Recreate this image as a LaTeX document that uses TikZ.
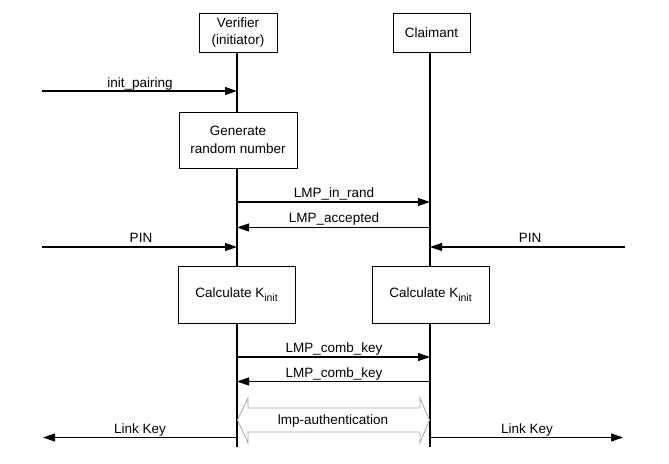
\documentclass[tikz,border=0pt]{standalone}
\usepackage{fontspec}
\setmainfont{Liberation Sans}
\usetikzlibrary{arrows.meta}
\newcommand{\subinit}{\raisebox{-4.5pt}{\fontsize{10.5}{12}\selectfont init}}
\begin{document}
\begin{tikzpicture}[x=1pt,y=-1pt,
  font=\fontsize{13.5}{17.5}\selectfont,
  box/.style={draw,fill=white,line width=1pt,inner sep=0pt,align=center},
  life/.style={line width=1.1pt},
  msg/.style={line width=1.1pt,-{Triangle[length=12pt,width=8pt]}},
  lbl/.style={inner sep=0pt,anchor=base}]
\useasboundingbox (0,0) rectangle (669,463);
% lifelines
\coordinate (vtop) at (237,52);
\coordinate (vbot) at (237,447);
\coordinate (ctop) at (430,52);
\coordinate (cbot) at (430,447);
\draw[life] (vtop) -- (vbot);
\draw[life] (ctop) -- (cbot);
% boxes
\node[box,minimum width=78pt,minimum height=39pt] (ver) at (238,32.5) {Verifier\\(initiator)};
\node[box,minimum width=77pt,minimum height=39pt] (cla) at (431.5,32.5) {Claimant};
\node[box,minimum width=118pt,minimum height=56pt] (gen) at (238,140) {Generate\\random number};
\node[box,minimum width=117pt,minimum height=57pt] (calv) at (236.5,294.5) {Calculate K\subinit};
\node[box,minimum width=117pt,minimum height=57pt] (calc) at (430.5,294.5) {Calculate K\subinit};
% coordinates for messages
\coordinate (ip0) at (42,91);   \coordinate (ip1) at (237,91);
\coordinate (ir0) at (237,202); \coordinate (ir1) at (430,202);
\coordinate (ac0) at (430,227.5); \coordinate (ac1) at (237,227.5);
\coordinate (pl0) at (42,247);  \coordinate (pl1) at (237,247);
\coordinate (pr0) at (625,247); \coordinate (pr1) at (430,247);
\coordinate (ck0) at (237,357); \coordinate (ck1) at (430,357);
\coordinate (kc0) at (430,381.5); \coordinate (kc1) at (237,381.5);
\coordinate (lk0) at (237,437.5); \coordinate (lk1) at (43,437.5);
\coordinate (lr0) at (430,437.5); \coordinate (lr1) at (623,437.5);
\draw[msg] (ip0) -- (ip1);
\draw[msg] (ir0) -- (ir1);
\draw[msg] (ac0) -- (ac1);
\draw[msg] (pl0) -- (pl1);
\draw[msg] (pr0) -- (pr1);
\draw[msg] (ck0) -- (ck1);
\draw[msg] (kc0) -- (kc1);
\draw[msg] (lk0) -- (lk1);
\draw[msg] (lr0) -- (lr1);
% labels
\node[lbl] (l1) at (140,87) {init\_pairing};
\node[lbl] (l2) at (334,197) {LMP\_in\_rand};
\node[lbl] (l3) at (334,222.5) {LMP\_accepted};
\node[lbl] (l4) at (141,242) {PIN};
\node[lbl] (l5) at (530,242) {PIN};
\node[lbl] (l6) at (334,352.5) {LMP\_comb\_key};
\node[lbl] (l7) at (334,377) {LMP\_comb\_key};
\node[lbl] (l8) at (140,433) {Link Key};
\node[lbl] (l9) at (527,433) {Link Key};
% lmp-authentication double arrow
\draw[draw=gray!70,fill=white,line width=0.8pt]
  (237.5,420) -- (248,398) -- (248,408) -- (420,408) -- (420,398) -- (429.5,420)
  -- (420,443) -- (420,432) -- (248,432) -- (248,443) -- cycle;
\node[lbl] (la) at (333,424.5) {lmp-authentication};
\end{tikzpicture}
\end{document}
